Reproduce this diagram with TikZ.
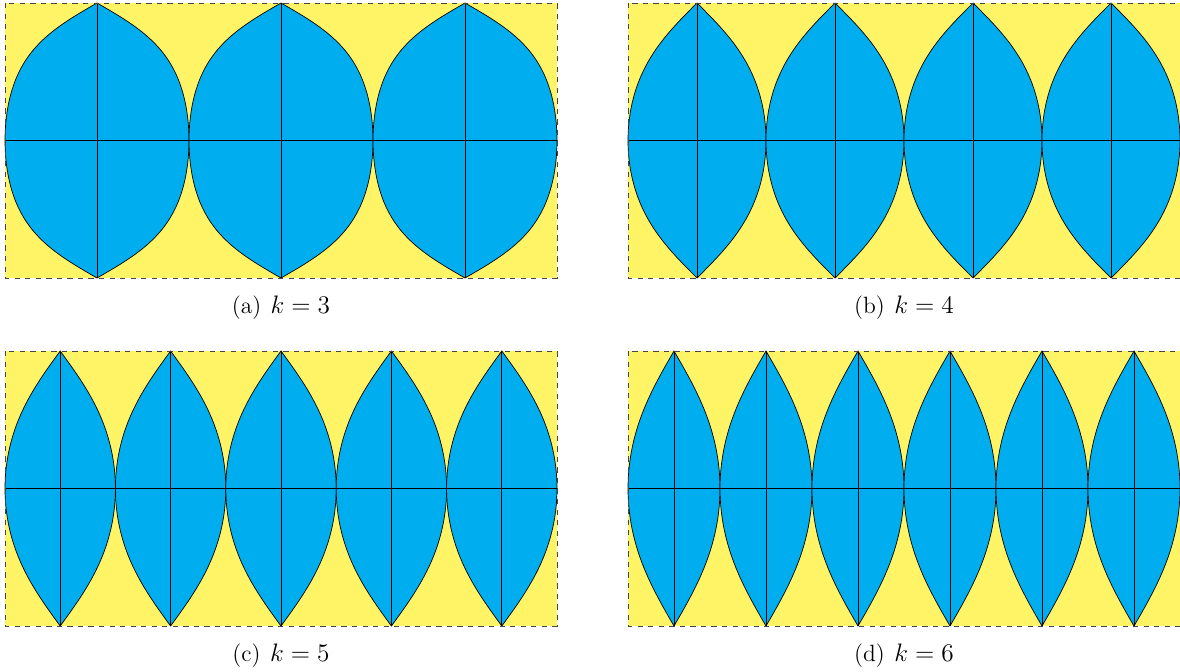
\documentclass[tikz,border=0pt]{standalone}
\usepackage{xcolor}
\usepackage{amsmath}
\usepackage{tikz}
\definecolor{gorefill}{RGB}{0,174,239}
\definecolor{seayellow}{RGB}{255,243,102}
\definecolor{framegray}{RGB}{70,70,70}
\tikzset{
  panelfill/.style={fill=seayellow, draw=none},
  panelframe/.style={draw=framegray, dashed, line width=0.4pt},
  gore/.style={draw=black, fill=gorefill, line width=0.4pt},
  axisline/.style={draw=black, line width=0.4pt},
  subcap/.style={font=\fontsize{13.4}{16}\selectfont, anchor=center, inner sep=0pt}
}

\begin{document}
\begin{tikzpicture}[x=0.02cm, y=-0.02cm]
\useasboundingbox (0,0) rectangle (1180,672);
\foreach \px/\py/\k/\lab in {5/3/3/a, 628/3/4/b, 5/351/5/c, 628/351/6/d}{
  \pgfmathsetmacro{\a}{276/\k}
  \pgfmathsetmacro{\lam}{180/\k}
  \pgfmathsetmacro{\ym}{\py+137.5}
  \fill[panelfill] (\px,\py) rectangle ++(552,275);
  \foreach \i in {1,...,\k}{
    \pgfmathsetmacro{\cx}{\px+(2*\i-1)*\a}
    % gore edge: meridian at +-lam in the transverse equidistant view
    \draw[gore] plot[domain=-90:270, samples=241]
      ({\cx+(276/180)*asin(cos(\x)*sin(\lam))},
       {\ym-(137.5/90)*atan2(sin(\x),abs(cos(\x))*cos(\lam))}) -- cycle;
    \draw[axisline] (\cx,\py) -- (\cx,\py+275);
  }
  \draw[axisline] (\px,\ym) -- (\px+552,\ym);
  \draw[panelframe] (\px,\py) rectangle ++(552,275);
  \node[subcap] (cap\lab) at (\px+276,\py+305) {(\lab)\hspace{0.4em}$k=\k$};
}
\end{tikzpicture}
\end{document}
